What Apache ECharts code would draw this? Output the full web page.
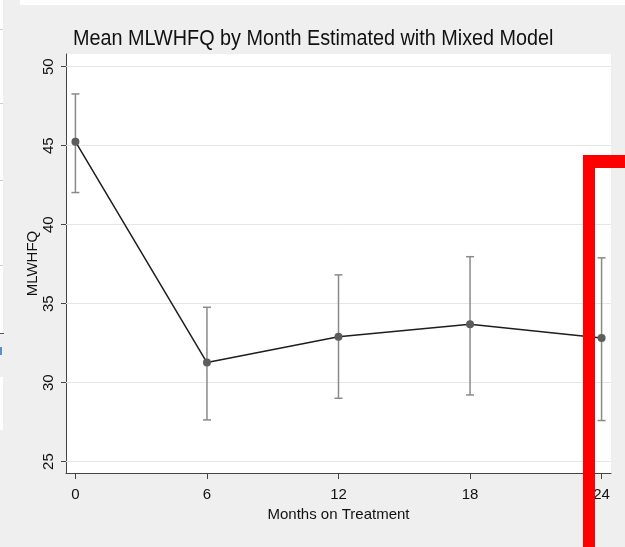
<!DOCTYPE html>
<html>
<head>
<meta charset="utf-8">
<script src="https://cdn.jsdelivr.net/npm/echarts@6/dist/echarts.min.js"></script>
<style>
html, body { margin: 0; padding: 0; background: #efefef; }
#main { width: 625px; height: 547px; }
</style>
</head>
<body>
<div id="main"></div>
<script>
// values
var months = [0, 6, 12, 18, 24];
var meanScore = [45.25, 31.27, 32.91, 33.69, 32.83];
var ciLower = [42.03, 27.64, 29.01, 29.22, 27.6];
var ciUpper = [48.27, 34.77, 36.82, 37.97, 37.9];
var xTicks = [0, 6, 12, 18, 24];
var yTicks = [25, 30, 35, 40, 45, 50];

var font = 'Liberation Sans';

var linePoints = months.map(function (m, i) { return [m, meanScore[i]]; });
var barPoints = months.map(function (m, i) { return [m, ciLower[i], ciUpper[i]]; });

function renderErrorBar(params, api) {
    var x = api.value(0);
    var lo = api.coord([x, api.value(1)]);
    var hi = api.coord([x, api.value(2)]);
    var cap = 4;
    var style = { stroke: '#8a8a8a', lineWidth: 1.5 };
    return {
        type: 'group',
        children: [
            { type: 'line', shape: { x1: lo[0], y1: lo[1], x2: hi[0], y2: hi[1] }, style: style },
            { type: 'line', shape: { x1: hi[0] - cap, y1: hi[1], x2: hi[0] + cap, y2: hi[1] }, style: style },
            { type: 'line', shape: { x1: lo[0] - cap, y1: lo[1], x2: lo[0] + cap, y2: lo[1] }, style: style }
        ]
    };
}

option = {
    backgroundColor: '#efefef',
    animation: false,
    textStyle: { fontFamily: font },
    grid: {
        left: 66,
        right: 14,
        top: 54,
        bottom: 74,
        show: true,
        backgroundColor: '#ffffff',
        borderWidth: 0
    },
    xAxis: {
        type: 'value',
        min: -0.43,
        max: 24.43,
        name: 'Months on Treatment',
        nameLocation: 'middle',
        nameGap: 34,
        nameMoveOverlap: false,
        nameTextStyle: { fontSize: 15, color: '#111', fontFamily: font },
        axisLine: { onZero: false, lineStyle: { color: '#444', width: 1 } },
        axisTick: { customValues: xTicks, length: 6, lineStyle: { color: '#444' } },
        axisLabel: { customValues: xTicks, fontSize: 15, color: '#111', margin: 14, fontFamily: font },
        splitLine: { show: false }
    },
    yAxis: {
        type: 'value',
        min: 24.28,
        max: 50.8,
        name: 'MLWHFQ',
        nameLocation: 'middle',
        nameGap: 26,
        nameMoveOverlap: false,
        nameTextStyle: { fontSize: 15, color: '#111', fontFamily: font },
        axisLine: { show: true, onZero: false, lineStyle: { color: '#444', width: 1 } },
        axisTick: { show: true, customValues: yTicks, length: 5, lineStyle: { color: '#444' } },
        axisLabel: { customValues: yTicks, rotate: 90, fontSize: 15, color: '#111', margin: 10, fontFamily: font },
        splitLine: { show: false }
    },
    series: [{
        // horizontal grid lines at the y ticks
        type: 'line',
        data: [],
        z: 1,
        markLine: {
            silent: true,
            z: 1,
            symbol: 'none',
            label: { show: false },
            lineStyle: { color: '#e6e6e6', width: 1, type: 'solid' },
            data: yTicks.map(function (v) { return { yAxis: v }; })
        }
    }, {
        type: 'custom',
        renderItem: renderErrorBar,
        data: barPoints,
        z: 2
    }, {
        type: 'line',
        data: linePoints,
        z: 3,
        symbol: 'circle',
        symbolSize: 8,
        lineStyle: { color: '#1e1e1e', width: 1.5 },
        itemStyle: { color: '#5c5c5c' }
    }],
    graphic: [
        // screenshot edges
        { type: 'rect', shape: { x: 20, y: 0, width: 605, height: 5 }, style: { fill: '#ffffff' } },
        { type: 'rect', shape: { x: 0, y: 0, width: 3, height: 333 }, style: { fill: '#ffffff' } },
        { type: 'rect', shape: { x: 0, y: 29, width: 3, height: 1 }, style: { fill: '#cccccc' } },
        { type: 'rect', shape: { x: 0, y: 103, width: 3, height: 1 }, style: { fill: '#cccccc' } },
        { type: 'rect', shape: { x: 0, y: 180, width: 3, height: 1 }, style: { fill: '#cccccc' } },
        { type: 'rect', shape: { x: 0, y: 265, width: 3, height: 1 }, style: { fill: '#cccccc' } },
        { type: 'rect', shape: { x: 0, y: 333, width: 4, height: 1 }, style: { fill: '#555555' } },
        { type: 'rect', shape: { x: 0, y: 347, width: 2, height: 8 }, style: { fill: '#5b8fc9' } },
        { type: 'rect', shape: { x: 0, y: 377, width: 3, height: 53 }, style: { fill: '#ffffff' } },
        {
            type: 'text',
            x: 73,
            y: 39,
            scaleX: 0.9,
            style: {
                text: 'Mean MLWHFQ by Month Estimated with Mixed Model',
                fontFamily: font,
                fontSize: 22,
                fill: '#111',
                align: 'left',
                verticalAlign: 'middle'
            }
        },
        // red annotation box
        { type: 'rect', z: 100, shape: { x: 583, y: 155, width: 12, height: 392 }, style: { fill: '#ff0000' } },
        { type: 'rect', z: 100, shape: { x: 583, y: 155, width: 42, height: 13 }, style: { fill: '#ff0000' } }
    ]
};

var chart = echarts.init(document.getElementById('main'));
chart.setOption(option);
</script>
</body>
</html>
